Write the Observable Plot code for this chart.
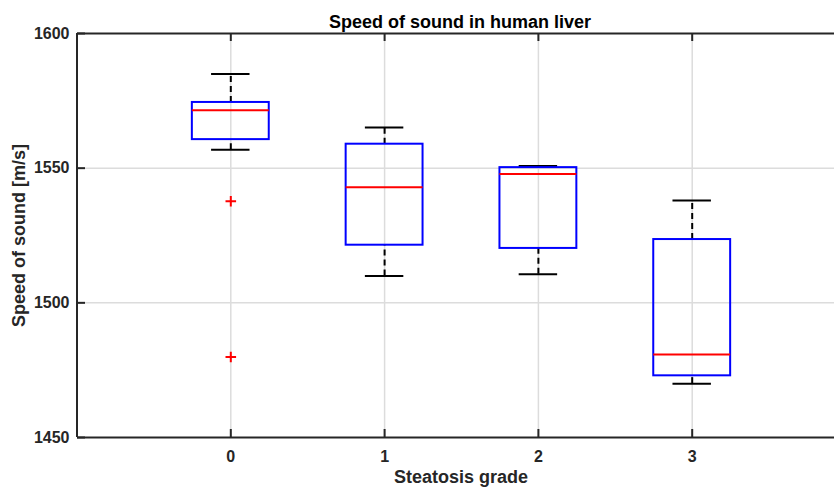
<!DOCTYPE html>
<html>
<head>
<meta charset="utf-8">
<script src="https://cdn.jsdelivr.net/npm/d3@7"></script>
<script src="https://cdn.jsdelivr.net/npm/@observablehq/plot@0.6"></script>
<style>
  html, body { margin: 0; padding: 0; background: #fff; }
</style>
</head>
<body>
<div id="chart"></div>
<script>
// ---- data ----
const grades = [0, 1, 2, 3];
const upperWhisker = [1585.0, 1565.1, 1550.8, 1538.0];
const q3 = [1574.4, 1558.9, 1550.2, 1523.5];
const medians = [1571.5, 1542.9, 1547.8, 1480.8];
const q1 = [1560.6, 1521.4, 1520.2, 1472.9];
const lowerWhisker = [1556.8, 1510.0, 1510.6, 1470.0];
const outlierGrade = [0, 0];
const outlierValue = [1537.7, 1479.9];
const yTicks = [1450, 1500, 1550, 1600];
const yGrid = [1500, 1550];
const titleText = "Speed of sound in human liver";
const xLabelText = "Steatosis grade";
const yLabelText = "Speed of sound [m/s]";

const stats = grades.map((g, i) => ({
  g, hi: upperWhisker[i], q3: q3[i], med: medians[i], q1: q1[i], lo: lowerWhisker[i]
}));
const outliers = outlierGrade.map((g, i) => ({g, v: outlierValue[i]}));

const axisColor = "#262626";
const gridColor = "#dcdcdc";
const boxHalf = 0.25, capHalf = 0.125;
const fmt = d => String(d);

const chart = Plot.plot({
  width: 834,
  height: 487,
  marginLeft: 77,
  marginRight: 0,
  marginTop: 33,
  marginBottom: 50,
  style: {fontFamily: "'Liberation Sans', Arial, sans-serif", fontWeight: "bold", fontSize: "16px", color: axisColor, background: "#fff"},
  x: {domain: [-1, 4], range: [76.5, 845.5], axis: null},
  y: {domain: [1450, 1600], axis: null},
  marks: [
    // grid
    Plot.ruleY(yGrid, {stroke: gridColor, strokeWidth: 1.5}),
    Plot.ruleX(grades, {stroke: gridColor, strokeWidth: 1.5}),
    // whiskers
    Plot.ruleX(stats, {x: "g", y1: "q3", y2: "hi", stroke: "#000", strokeWidth: 2, strokeDasharray: "6 4"}),
    Plot.ruleX(stats, {x: "g", y1: "lo", y2: "q1", stroke: "#000", strokeWidth: 2, strokeDasharray: "6 4"}),
    Plot.ruleY(stats, {y: "hi", x1: d => d.g - capHalf, x2: d => d.g + capHalf, stroke: "#000", strokeWidth: 2}),
    Plot.ruleY(stats, {y: "lo", x1: d => d.g - capHalf, x2: d => d.g + capHalf, stroke: "#000", strokeWidth: 2}),
    // boxes
    Plot.rect(stats, {x1: d => d.g - boxHalf, x2: d => d.g + boxHalf, y1: "q1", y2: "q3", fill: "none", stroke: "#0000ff", strokeWidth: 2}),
    Plot.ruleY(stats, {y: "med", x1: d => d.g - boxHalf, x2: d => d.g + boxHalf, stroke: "#ff0000", strokeWidth: 2}),
    // outliers
    Plot.dot(outliers, {x: "g", y: "v", symbol: "plus", r: 3.5, stroke: "#ff0000", strokeWidth: 2}),
    // axes frame
    Plot.ruleX([-1], {stroke: axisColor, strokeWidth: 2}),
    Plot.ruleY([1450, 1600], {stroke: axisColor, strokeWidth: 2}),
    // inward ticks
    Plot.ruleX(grades, {stroke: axisColor, strokeWidth: 2, insetTop: 396}),
    Plot.ruleX(grades, {stroke: axisColor, strokeWidth: 2, insetBottom: 396}),
    Plot.ruleY(yTicks, {stroke: axisColor, strokeWidth: 2, insetRight: 834 - 77 - 8}),
    // tick labels
    Plot.axisX(grades, {tickSize: 0, tickPadding: 13, tickFormat: fmt, fontSize: 16, fontWeight: "bold", fill: axisColor, label: null}),
    Plot.axisY(yTicks, {tickSize: 0, tickPadding: 8, tickFormat: fmt, fontSize: 16, fontWeight: "bold", fill: axisColor, label: null}),
    // title & labels
    Plot.text([titleText], {frameAnchor: "top", dx: 4, dy: -6, lineAnchor: "bottom", fontSize: 18, fontWeight: "bold", fill: "#000"}),
    Plot.text([xLabelText], {frameAnchor: "bottom", dx: 5, dy: 33, lineAnchor: "top", fontSize: 18, fontWeight: "bold", fill: axisColor}),
    Plot.text([yLabelText], {frameAnchor: "left", textAnchor: "middle", dx: -58, rotate: -90, fontSize: 18, fontWeight: "bold", fill: axisColor})
  ]
});
document.getElementById("chart").appendChild(chart);
</script>
</body>
</html>
